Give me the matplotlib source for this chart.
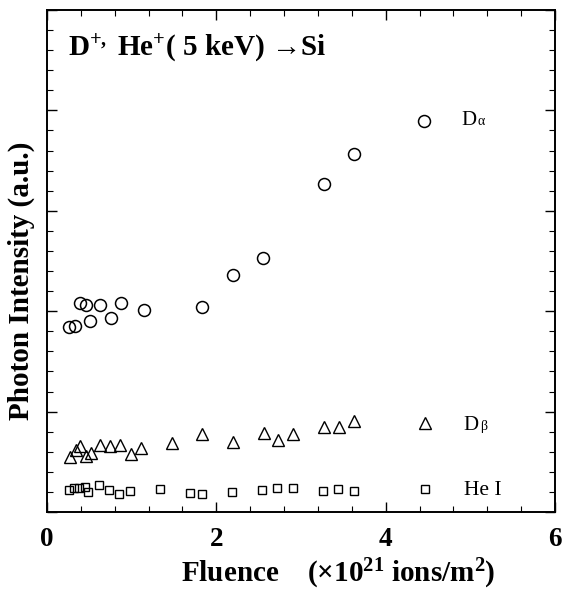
import matplotlib
matplotlib.use("Agg")
import matplotlib.pyplot as plt
from matplotlib.ticker import MultipleLocator

plt.rcParams['mathtext.fontset'] = 'custom'
plt.rcParams['mathtext.rm'] = 'Liberation Serif:bold'
plt.rcParams['mathtext.bf'] = 'Liberation Serif:bold'
plt.rcParams['mathtext.it'] = 'Liberation Serif:bold:italic'

# Data (fluence in 1e21 ions/m^2, intensity in a.u.)
da_x = [0.255, 0.33, 0.39, 0.455, 0.51, 0.63, 0.75, 0.87, 1.15, 1.83, 2.20, 2.55, 3.27, 3.63, 4.455]
da_y = [1.84, 1.85, 2.08, 2.06, 1.90, 2.06, 1.93, 2.08, 2.01, 2.04, 2.36, 2.53, 3.27, 3.57, 3.89]

db_x = [0.27, 0.34, 0.39, 0.455, 0.52, 0.63, 0.745, 0.86, 0.99, 1.11, 1.48, 1.83, 2.20,
        2.56, 2.73, 2.91, 3.27, 3.45, 3.63, 4.46]
db_y = [0.55, 0.62, 0.66, 0.56, 0.59, 0.67, 0.66, 0.67, 0.58, 0.64, 0.69, 0.78, 0.70,
        0.79, 0.72, 0.78, 0.85, 0.85, 0.91, 0.89]

he_x = [0.255, 0.32, 0.38, 0.45, 0.49, 0.62, 0.73, 0.85, 0.98, 1.34, 1.69, 1.83, 2.19,
        2.54, 2.72, 2.91, 3.26, 3.44, 3.63, 4.46]
he_y = [0.22, 0.24, 0.24, 0.25, 0.20, 0.27, 0.22, 0.18, 0.21, 0.23, 0.19, 0.18, 0.20,
        0.22, 0.24, 0.24, 0.21, 0.23, 0.21, 0.23]

xticks = [0, 2, 4, 6]
xtick_labels = ['0', '2', '4', '6']

serif = ['Liberation Serif', 'DejaVu Serif']

fig = plt.figure(figsize=(5.65, 5.96), dpi=100)
ax = fig.add_axes([47/565, 84/596, 508/565, 502/596])

ax.plot(da_x, da_y, linestyle='none', marker='o', ms=8.6, mfc='none', mec='black', mew=1.1)
ax.plot(db_x, db_y, linestyle='none', marker='^', ms=8.8, mfc='none', mec='black', mew=1.0)
ax.plot(he_x, he_y, linestyle='none', marker='s', ms=6.3, mfc='none', mec='black', mew=1.0)

ax.set_xlim(0, 6)
ax.set_ylim(0, 5)
ax.set_xticks(xticks)
ax.set_xticklabels(xtick_labels, fontfamily=serif, fontweight='bold', fontsize=19.5)
ax.xaxis.set_minor_locator(MultipleLocator(0.4))
ax.yaxis.set_major_locator(MultipleLocator(1))
ax.yaxis.set_minor_locator(MultipleLocator(0.2))
ax.tick_params(which='both', direction='in', top=True, right=True, labelleft=False)
ax.tick_params(which='major', length=7, width=1.0, pad=11)
ax.tick_params(which='minor', length=4, width=0.8)
for s in ax.spines.values():
    s.set_linewidth(1.4)

# Title inside plot
ax.text(0.25, 4.55, r"D$^{+,}$ He$^{+}$( 5 keV) →Si", fontfamily=serif, fontweight='bold',
        fontsize=21, va='baseline', ha='left')

# Series labels
ax.text(4.89, 3.85, "D", fontfamily=serif, fontsize=15, va='baseline', ha='left')
ax.text(5.08, 3.85, "α", fontfamily=serif, fontsize=10, va='baseline', ha='left')
ax.text(4.92, 0.82, "D", fontfamily=serif, fontsize=15, va='baseline', ha='left')
ax.text(5.11, 0.82, "β", fontfamily=serif, fontsize=10, va='baseline', ha='left')
ax.text(4.92, 0.17, "He I", fontfamily=serif, fontsize=15.5, va='baseline', ha='left')

fig.text(0.598, 0.0235, r"Fluence    (×10$^{21}$ ions/m$^{2}$)", fontfamily=serif,
         fontweight='bold', fontsize=21, ha='center', va='baseline')
fig.text(0.038, 0.528, "Photon Intensity (a.u.)", fontfamily=serif, fontweight='bold',
         fontsize=21, rotation=90, ha='center', va='center')

fig.savefig("out.png", dpi=100)
